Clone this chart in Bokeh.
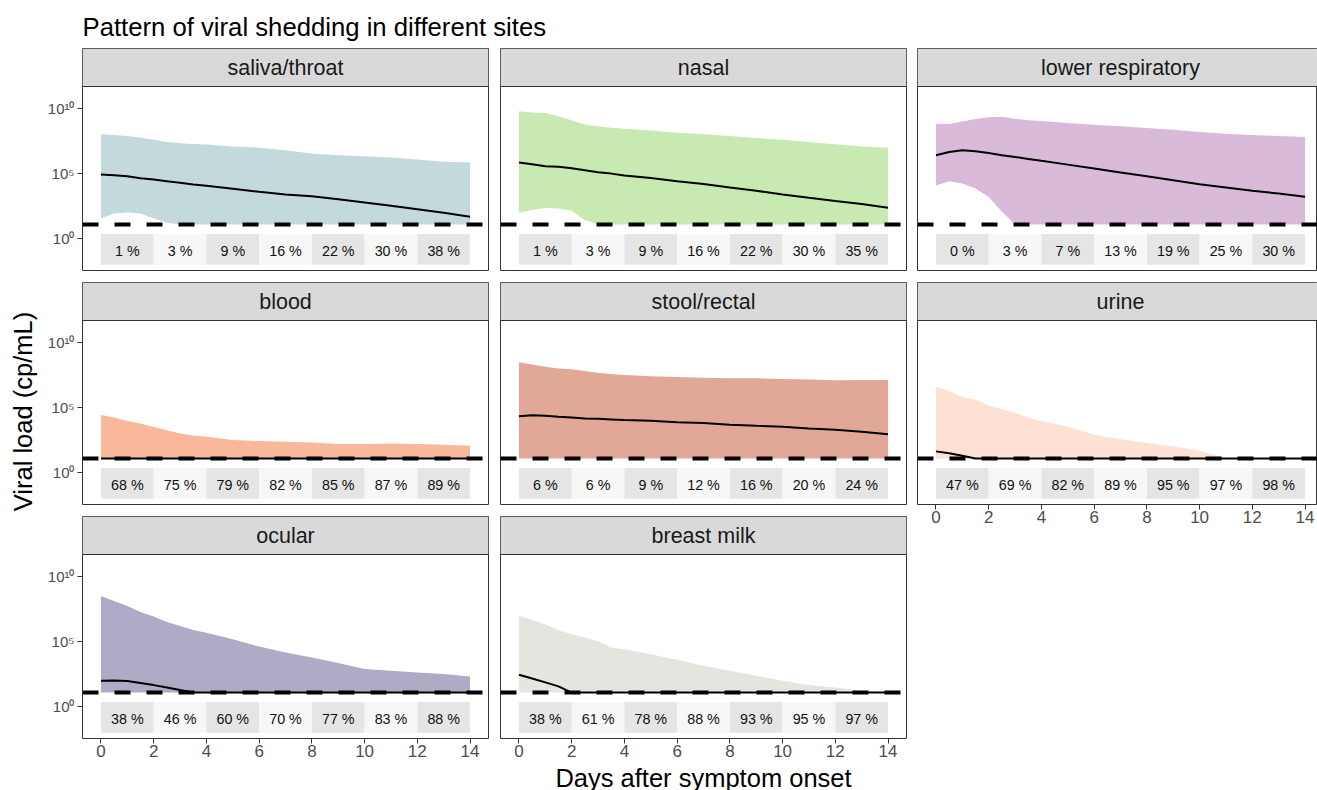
import math
from bokeh.plotting import figure
from bokeh.layouts import row, column
from bokeh.models import Range1d, FixedTicker, Span, Label
from bokeh.embed import file_html
from bokeh.resources import INLINE
from bokeh.core.properties import value

FONT = "Liberation Sans"

# ---------------- data (log10 cp/mL) ----------------
LOD = 1.06  # limit of detection, log10 cp/mL
L = LOD

days = [0, 0.5, 1, 1.5, 2, 2.5, 3, 3.5, 4, 5, 6, 7, 8, 9, 10, 11, 12, 13, 14]

sites = ["saliva/throat", "nasal", "lower respiratory", "blood",
         "stool/rectal", "urine", "ocular", "breast milk"]

fill_colors = ["#c4d9dc", "#c8e9b1", "#d9bbd9", "#f9b79b",
               "#e1a897", "#fde1d3", "#b1aac6", "#e5e5e0"]

saliva_upper = [7.99, 7.94, 7.86, 7.73, 7.58, 7.40, 7.30, 7.25, 7.20, 7.06, 6.96, 6.76, 6.51, 6.38, 6.30, 6.20, 6.05, 5.89, 5.82]
saliva_median = [4.90, 4.85, 4.77, 4.62, 4.52, 4.39, 4.26, 4.13, 4.03, 3.80, 3.57, 3.37, 3.24, 3.01, 2.76, 2.50, 2.24, 1.96, 1.66]
saliva_lower = [1.53, 1.91, 1.99, 1.91, 1.53, 1.20, L, L, L, L, L, L, L, L, L, L, L, L, L]

nasal_upper = [9.75, 9.67, 9.62, 9.37, 9.06, 8.75, 8.60, 8.50, 8.42, 8.29, 8.11, 7.99, 7.86, 7.70, 7.58, 7.40, 7.22, 7.06, 6.96]
nasal_median = [5.82, 5.69, 5.54, 5.49, 5.38, 5.23, 5.08, 4.97, 4.82, 4.64, 4.39, 4.18, 3.90, 3.65, 3.37, 3.11, 2.86, 2.63, 2.35]
nasal_lower = [1.96, 2.17, 2.32, 2.30, 2.12, 1.40, L, L, L, L, L, L, L, L, L, L, L, L, L]

lowresp_upper = [8.80, 8.78, 8.98, 9.16, 9.29, 9.34, 9.19, 9.06, 9.01, 8.85, 8.73, 8.60, 8.47, 8.34, 8.16, 8.04, 7.94, 7.86, 7.78]
lowresp_median = [6.38, 6.63, 6.76, 6.69, 6.56, 6.38, 6.25, 6.10, 5.95, 5.66, 5.36, 5.05, 4.77, 4.46, 4.15, 3.90, 3.65, 3.44, 3.19]
lowresp_lower = [4.06, 4.39, 4.21, 3.83, 3.18, 2.04, L, L, L, L, L, L, L, L, L, L, L, L, L]

blood_upper = [4.41, 4.21, 3.95, 3.75, 3.49, 3.24, 2.98, 2.83, 2.73, 2.48, 2.40, 2.35, 2.30, 2.17, 2.17, 2.22, 2.17, 2.12, 2.04]
blood_median = [L, L, L, L, L, L, L, L, L, L, L, L, L, L, L, L, L, L, L]
blood_lower = [L, L, L, L, L, L, L, L, L, L, L, L, L, L, L, L, L, L, L]

stool_upper = [8.46, 8.29, 8.11, 7.98, 7.91, 7.78, 7.65, 7.55, 7.47, 7.37, 7.32, 7.27, 7.22, 7.22, 7.17, 7.12, 7.07, 7.09, 7.09]
stool_median = [4.31, 4.39, 4.34, 4.26, 4.21, 4.13, 4.11, 4.06, 4.01, 3.96, 3.85, 3.78, 3.65, 3.57, 3.50, 3.37, 3.27, 3.11, 2.93]
stool_lower = [L, L, L, L, L, L, L, L, L, L, L, L, L, L, L, L, L, L, L]

urine_upper = [6.55, 6.25, 5.79, 5.58, 5.13, 4.85, 4.59, 4.21, 3.95, 3.50, 2.89, 2.55, 2.25, 1.99, 1.66, 1.10, L, L, L]
urine_median = [1.61, 1.46, 1.28, L, L, L, L, L, L, L, L, L, L, L, L, L, L, L, L]
urine_lower = [L, L, L, L, L, L, L, L, L, L, L, L, L, L, L, L, L, L, L]

ocular_upper = [8.47, 8.09, 7.70, 7.24, 6.89, 6.48, 6.17, 5.87, 5.66, 5.15, 4.59, 4.13, 3.75, 3.32, 2.86, 2.73, 2.60, 2.48, 2.30]
ocular_median = [1.97, 1.99, 1.94, 1.79, 1.63, 1.45, 1.25, L, L, L, L, L, L, L, L, L, L, L, L]
ocular_lower = [L, L, L, L, L, L, L, L, L, L, L, L, L, L, L, L, L, L, L]

milk_upper = [6.94, 6.63, 6.30, 5.87, 5.54, 5.28, 5.00, 4.51, 4.39, 4.00, 3.57, 3.11, 2.73, 2.35, 1.97, 1.63, 1.45, 1.20, L]
milk_median = [2.43, 2.14, 1.84, 1.53, L, L, L, L, L, L, L, L, L, L, L, L, L, L, L]
milk_lower = [L, L, L, L, L, L, L, L, L, L, L, L, L, L, L, L, L, L, L]

# percentage of samples below detection in each 2-day bin
bin_start = [0, 2, 4, 6, 8, 10, 12]
BIN_W = 2
pct_saliva = [1, 3, 9, 16, 22, 30, 38]
pct_nasal = [1, 3, 9, 16, 22, 30, 35]
pct_lowresp = [0, 3, 7, 13, 19, 25, 30]
pct_blood = [68, 75, 79, 82, 85, 87, 89]
pct_stool = [6, 6, 9, 12, 16, 20, 24]
pct_urine = [47, 69, 82, 89, 95, 97, 98]
pct_ocular = [38, 46, 60, 70, 77, 83, 88]
pct_milk = [38, 61, 78, 88, 93, 95, 97]

x_ticks = [0, 2, 4, 6, 8, 10, 12, 14]
y_ticks = [0, 5, 10]
y_tick_labels = ["10\u2070", "10\u2075", "10\u00b9\u2070"]

uppers = [saliva_upper, nasal_upper, lowresp_upper, blood_upper, stool_upper, urine_upper, ocular_upper, milk_upper]
medians = [saliva_median, nasal_median, lowresp_median, blood_median, stool_median, urine_median, ocular_median, milk_median]
lowers = [saliva_lower, nasal_lower, lowresp_lower, blood_lower, stool_lower, urine_lower, ocular_lower, milk_lower]
pcts = [pct_saliva, pct_nasal, pct_lowresp, pct_blood, pct_stool, pct_urine, pct_ocular, pct_milk]

# ---------------- layout constants ----------------
XMIN, XMAX = -0.7, 14.7
FW = 406                       # frame width of full columns
PX_PER_DAY = FW / (XMAX - XMIN)
YMIN, YPAN_TOP = -2.47, 11.66
FH = 222                       # frame height incl. strip
STRIP_PX = 38
PX_PER_DEC = (FH - STRIP_PX) / (YPAN_TOP - YMIN)
YTOP = YPAN_TOP + STRIP_PX / PX_PER_DEC
BOX_BOTTOM, BOX_TOP = -2.02, 0.34
PCT_Y = -1.0
BORDER = "#333333"
TICK_COL = "#4d4d4d"


def make_panel(k, frame_w, lb, rb, tb, bb, show_x, show_y):
    xmax = XMIN + frame_w / PX_PER_DAY
    p = figure(width=lb + frame_w + rb, height=tb + FH + bb,
               x_range=Range1d(XMIN, xmax), y_range=Range1d(YMIN, YTOP),
               x_axis_location="below" if show_x else None,
               y_axis_location="left" if show_y else None,
               output_backend="svg", toolbar_location=None,
               min_border_left=lb, min_border_right=rb,
               min_border_top=tb, min_border_bottom=bb,
               background_fill_color="white", border_fill_color="white",
               outline_line_color=BORDER, outline_line_width=1)
    p.grid.grid_line_color = None

    # strip
    p.quad(left=[XMIN], right=[xmax], bottom=[YPAN_TOP], top=[YTOP],
           fill_color="#d9d9d9", line_color=None)
    p.add_layout(Span(location=YPAN_TOP, dimension="width", line_color=BORDER, line_width=1))
    p.text(x=[(XMIN + XMAX) / 2], y=[(YPAN_TOP + YTOP) / 2], text=[sites[k]],
           text_align="center", text_baseline="middle",
           text_font=value(FONT), text_font_size="21.5px", text_color="#1a1a1a")

    # ribbon and median
    p.varea(x=days, y1=lowers[k], y2=uppers[k], fill_color=fill_colors[k])
    p.line(x=days, y=medians[k], line_color="black", line_width=2)

    # percent boxes
    rights = [b + BIN_W for b in bin_start]
    box_cols = ["#e5e5e5" if i % 2 == 0 else "#f7f7f7" for i in range(len(bin_start))]
    p.quad(left=bin_start, right=rights, bottom=BOX_BOTTOM, top=BOX_TOP,
           fill_color=box_cols, line_color=None)
    p.text(x=[b + BIN_W / 2 for b in bin_start], y=[PCT_Y] * len(bin_start),
           text=[f"{v} %" for v in pcts[k]],
           text_align="center", text_baseline="middle",
           text_font=value(FONT), text_font_size="14.3px", text_color="#111111")

    # detection limit
    p.add_layout(Span(location=LOD, dimension="width", line_color="black",
                      line_width=4, line_dash="16 16"))

    if show_x:
        ax = p.xaxis[0]
        ax.ticker = FixedTicker(ticks=x_ticks)
        ax.axis_line_color = None
        ax.major_tick_in = 0
        ax.major_tick_out = 5
        ax.major_tick_line_color = BORDER
        ax.minor_tick_line_color = None
        ax.major_label_standoff = 1
        ax.major_label_text_font = FONT
        ax.major_label_text_font_size = "17px"
        ax.major_label_text_color = TICK_COL
    if show_y:
        ay = p.yaxis[0]
        ay.ticker = FixedTicker(ticks=y_ticks)
        ay.major_label_overrides = {t: lab for t, lab in zip(y_ticks, y_tick_labels)}
        ay.axis_line_color = None
        ay.major_tick_in = 0
        ay.major_tick_out = 5
        ay.major_tick_line_color = BORDER
        ay.minor_tick_line_color = None
        ay.major_label_standoff = 3
        ay.major_label_text_font = FONT
        ay.major_label_text_font_size = "15px"
        ay.major_label_text_color = TICK_COL
    return p


def blank(w, h):
    f = figure(width=w, height=h, x_range=Range1d(0, w), y_range=Range1d(0, h),
               x_axis_location=None, y_axis_location=None, min_border=0,
               output_backend="svg", toolbar_location=None, outline_line_color=None)
    f.grid.grid_line_color = None
    return f


HEADER_H, FOOTER_H, YLAB_W = 48, 26, 38
BOTTOM_B = 26
FW3 = 400

col1 = column(make_panel(0, FW, 44, 6, 0, 6, False, True),
              make_panel(3, FW, 44, 6, 6, 6, False, True),
              make_panel(6, FW, 44, 6, 6, BOTTOM_B, True, True))
col2 = column(make_panel(1, FW, 6, 5, 0, 6, False, False),
              make_panel(4, FW, 6, 5, 6, 6, False, False),
              make_panel(7, FW, 6, 5, 6, BOTTOM_B, True, False))
col3 = column(make_panel(2, FW3, 6, 0, 0, 6, False, False),
              make_panel(5, FW3, 6, 0, 6, 30, True, False))

MID_H = 228 + 234 + (6 + FH + BOTTOM_B)
TOTAL_W = YLAB_W + (44 + FW + 6) + (6 + FW + 5) + (6 + FW3)

ylab = blank(YLAB_W, MID_H)
ylab.add_layout(Label(x=22, y=MID_H - (411 - HEADER_H), text="Viral load (cp/mL)", angle=math.pi / 2,
                      text_align="center", text_baseline="middle", text_font=FONT,
                      text_font_size="25.5px", text_color="black"))

header = blank(TOTAL_W, HEADER_H)
header.add_layout(Label(x=82, y=HEADER_H - 26, text="Pattern of viral shedding in different sites",
                        text_align="left", text_baseline="middle", text_font=FONT,
                        text_font_size="25.7px", text_color="black"))

footer = blank(TOTAL_W, FOOTER_H)
xcenter = YLAB_W + 44 + FW + 6 + 6 + FW / 2
footer.add_layout(Label(x=xcenter, y=FOOTER_H - (777 - (HEADER_H + MID_H)), text="Days after symptom onset",
                        text_align="center", text_baseline="middle", text_font=FONT,
                        text_font_size="25.5px", text_color="black"))

layout = column(header, row(ylab, col1, col2, col3), footer)

open("out.html", "w").write(file_html(layout, INLINE))
